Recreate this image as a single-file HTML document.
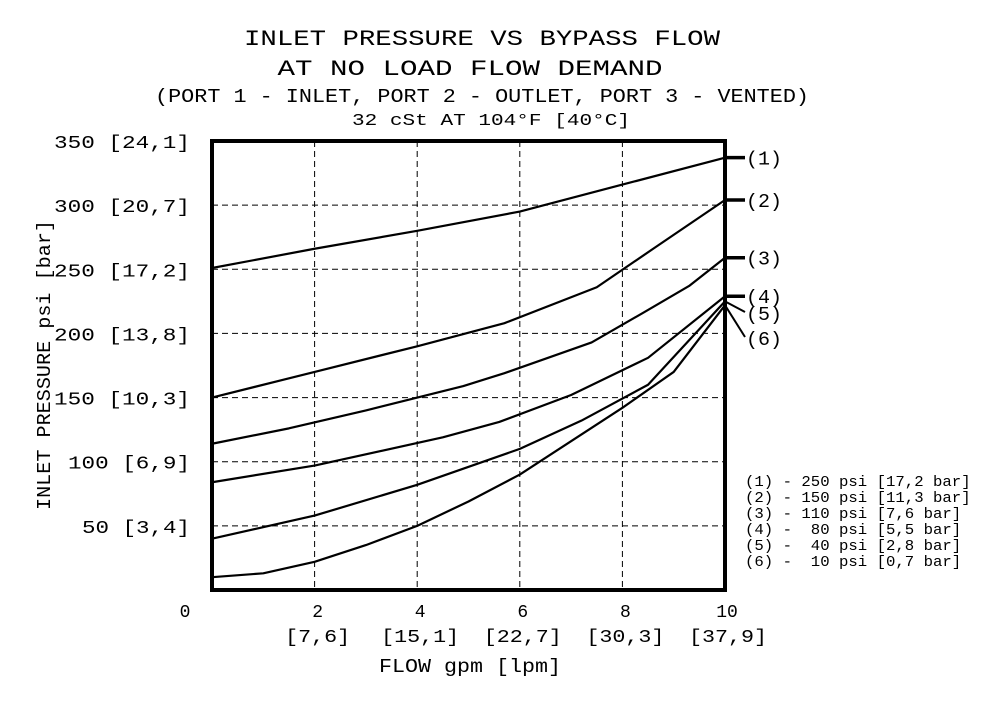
<!DOCTYPE html>
<html><head><meta charset="utf-8"><style>
html,body{margin:0;padding:0;background:#fff}
svg text{font-family:"Liberation Mono",monospace;fill:#000}
</style></head><body>
<svg id="chart" width="1001" height="700" viewBox="0 0 1001 700" xmlns="http://www.w3.org/2000/svg">
<g>
<text x="482" y="45" font-size="22" text-anchor="middle" textLength="476" lengthAdjust="spacingAndGlyphs">INLET PRESSURE VS BYPASS FLOW</text>
<text x="470" y="75" font-size="22" text-anchor="middle" textLength="385" lengthAdjust="spacingAndGlyphs">AT NO LOAD FLOW DEMAND</text>
<text x="482" y="102" font-size="19" text-anchor="middle" textLength="654" lengthAdjust="spacingAndGlyphs">(PORT 1 - INLET, PORT 2 - OUTLET, PORT 3 - VENTED)</text>
<text x="491" y="125" font-size="17" text-anchor="middle" textLength="278" lengthAdjust="spacingAndGlyphs">32 cSt AT 104°F [40°C]</text>
</g>
<g id="grid"></g>
<g id="curves"></g>
<rect x="212" y="141" width="513" height="449" fill="none" stroke="#000" stroke-width="4"/>
<g id="yticks"></g>
<g id="xticks"></g>
<text transform="translate(50,365) rotate(-90)" font-size="19" text-anchor="middle" textLength="290" lengthAdjust="spacingAndGlyphs">INLET PRESSURE psi [bar]</text>
<text x="470" y="672" font-size="19" text-anchor="middle" textLength="182" lengthAdjust="spacingAndGlyphs">FLOW gpm [lpm]</text>
<g id="labels"></g>
<g id="legend"></g>
</svg>
<script>
const xTicks = [0, 2, 4, 6, 8, 10];
const xLpm = ["", "[7,6]", "[15,1]", "[22,7]", "[30,3]", "[37,9]"];
const yTicks = [50, 100, 150, 200, 250, 300, 350];
const yBar = ["[3,4]", "[6,9]", "[10,3]", "[13,8]", "[17,2]", "[20,7]", "[24,1]"];
const curve1 = [[0,251],[2,266],[4,280],[6,295],[8,316],[10,337]];
const curve2 = [[0,150],[2,170],[4,190],[5.7,208],[7.5,236],[8.6,266],[10,304]];
const curve3 = [[0,114],[1.5,126],[3,140],[4.9,159],[5.7,169],[7.4,193],[8.4,216],[9.3,237],[10,259]];
const curve4 = [[0,84],[2,97],[4.5,119],[5.6,131],[7,152],[8.5,181],[10,229]];
const curve5 = [[0,40],[2,58],[4,82],[6,110],[7.2,132],[8.5,160],[10,225]];
const curve6 = [[0,10],[1,13],[2,22],[3,35],[4,50],[5,69],[6,90],[7,116],[8,142],[9,170],[10,222]];
const curveNames = ["(1)","(2)","(3)","(4)","(5)","(6)"];
const legendText = ["(1) - 250 psi [17,2 bar]","(2) - 150 psi [11,3 bar]","(3) - 110 psi [7,6 bar]","(4) -  80 psi [5,5 bar]","(5) -  40 psi [2,8 bar]","(6) -  10 psi [0,7 bar]"];

const NS="http://www.w3.org/2000/svg";
const X0=212,X1=725,Y0=590,Y1=141;
const xs=g=>X0+(g/10)*(X1-X0);
const ys=p=>Y0-(p/350)*(Y0-Y1);
function mk(tag,parent,attrs){const e=document.createElementNS(NS,tag);for(const k in attrs)e.setAttribute(k,attrs[k]);parent.appendChild(e);return e;}

const grid=document.getElementById('grid');
xTicks.slice(1,-1).forEach(g=>{
  const l=mk('line',grid,{x1:xs(g),x2:xs(g),y1:Y1,y2:Y0,stroke:'#000','stroke-width':1,'stroke-dasharray':'6,4'});
  
  
});
yTicks.slice(0,-1).forEach(p=>{
  const l=mk('line',grid,{x1:X0,x2:X1,y1:ys(p),y2:ys(p),stroke:'#000','stroke-width':1,'stroke-dasharray':'6,4'});
  
  
});

const yt=document.getElementById('yticks');
yTicks.forEach((p,i)=>{
  const t=mk('text',yt,{x:190,y:ys(p)+7,'font-size':18,'text-anchor':'end'});
  t.textContent=p+" "+yBar[i];
  t.setAttribute('textLength', (String(p).length+1+yBar[i].length)*14-4);
  t.setAttribute('lengthAdjust','spacingAndGlyphs');
  
  
});
const xt=document.getElementById('xticks');
xTicks.forEach((g,i)=>{
  const t=mk('text',xt,{x:g===0?185:xs(g)+(g===10?2:3),y:617,'font-size':18,'text-anchor':'middle'});
  t.textContent=String(g);
  
  
  if(xLpm[i]){
    const b=mk('text',xt,{x:xs(g)+3,y:642,'font-size':18,'text-anchor':'middle'});
    b.textContent=xLpm[i];
    b.setAttribute('textLength', xLpm[i].length*13);
    b.setAttribute('lengthAdjust','spacingAndGlyphs');
    
    
  }
});

const cv=document.getElementById('curves');
[curve1,curve2,curve3,curve4,curve5,curve6].forEach((c,i)=>{
  const p=mk('polyline',cv,{points:c.map(d=>xs(d[0])+','+ys(d[1])).join(' '),fill:'none',stroke:'#000','stroke-width':2.2,'stroke-linejoin':'round'});
  
  
});

const lb=document.getElementById('labels');
const ends=[curve1,curve2,curve3,curve4,curve5,curve6].map(c=>c[c.length-1]);
const labelY=[157,200,257,296,320,345];
ends.forEach((e,i)=>{
  const ex=xs(e[0]),ey=ys(e[1]);
  let l;
  if(i<4){l=mk('line',lb,{x1:ex,y1:ey,x2:745,y2:ey,stroke:'#000','stroke-width':3.5});}
  else{l=mk('line',lb,{x1:ex,y1:ey,x2:745,y2:labelY[i]-8,stroke:'#000','stroke-width':2});}
  
  
  const t=mk('text',lb,{x:746,y:(i<4?ey+7:labelY[i]),'font-size':19,textLength:36,lengthAdjust:'spacingAndGlyphs'});
  t.textContent=curveNames[i];
  
  
});

const lg=document.getElementById('legend');
legendText.forEach((s,i)=>{
  const t=mk('text',lg,{x:745,y:486+i*16,'font-size':15,'xml:space':'preserve'});
  t.setAttribute('style','white-space:pre');
  t.textContent=s;
  t.setAttribute('textLength', s.length*9.4);
  t.setAttribute('lengthAdjust','spacingAndGlyphs');
  
  
});
</script>
</body></html>
